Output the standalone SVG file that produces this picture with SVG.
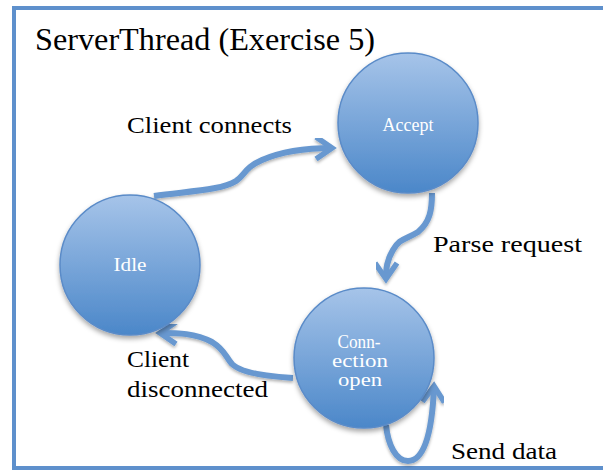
<svg xmlns="http://www.w3.org/2000/svg" width="603" height="472" viewBox="0 0 603 472">
<style>
.lbl{font-family:"Liberation Serif","Times New Roman",serif;fill:#000;font-size:24px}
.nl{font-family:"Liberation Serif","Times New Roman",serif;fill:#fff;font-size:19px;text-anchor:middle}
.node{fill:url(#g);stroke:#5a8bc8;stroke-width:1.5;filter:url(#sh)}
.con{fill:none;stroke:#6898d0;stroke-width:6;filter:url(#sh2);marker-end:url(#ah)}
</style>
<defs>
<linearGradient id="g" x1="0" y1="0" x2="0" y2="1">
<stop offset="0" stop-color="#a6c4e9"/>
<stop offset="1" stop-color="#4b87c9"/>
</linearGradient>
<filter id="sh" x="-20%" y="-20%" width="140%" height="150%">
<feDropShadow dx="0" dy="3" stdDeviation="2.5" flood-color="#000" flood-opacity="0.35"/>
</filter>
<filter id="sh2" x="-20%" y="-20%" width="140%" height="150%">
<feDropShadow dx="0" dy="2" stdDeviation="1.5" flood-color="#000" flood-opacity="0.3"/>
</filter>
<marker id="ah" markerUnits="userSpaceOnUse" viewBox="-22 -15 30 30" refX="0" refY="0" markerWidth="30" markerHeight="30" orient="auto">
<path d="M-16,-11 L0,0 L-16,11" fill="none" stroke="#6898d0" stroke-width="5.5" stroke-linejoin="miter"/>
</marker>
</defs>
<rect x="0" y="0" width="603" height="472" fill="#fff"/>
<rect id="frame" x="14" y="8" width="620" height="460" fill="#fff" stroke="#5e90cc" stroke-width="4"/>
<text id="title" x="35" y="50" class="lbl" style="font-size:32px" textLength="340" lengthAdjust="spacingAndGlyphs">ServerThread (Exercise 5)</text>
<g id="connectors">
<path class="con" d="M154,196 C190,191 222,190 236,181 C246,174 244,168 262,160 C285,150 310,148 332,148"/>
<path class="con" d="M432,193 C432,210 430,222 418,232 C405,240 400,238 393,250 C387,260 386,268 386,279"/>
<path class="con" d="M293,378 C260,376 240,372 232,364 C225,356 225,350 212,342 C195,333 178,333 160,333"/>
<path class="con" d="M386,425 C388,445 396,461 408,461 C422,461 432,440 434,386"/>
</g>
<g id="accept">
<circle class="node" cx="408" cy="123" r="70"/>
<text class="nl" x="408" y="131" textLength="51" lengthAdjust="spacingAndGlyphs">Accept</text>
</g>
<g id="idle">
<circle class="node" cx="130" cy="265" r="70"/>
<text class="nl" x="130" y="271" textLength="33" lengthAdjust="spacingAndGlyphs">Idle</text>
</g>
<g id="connection-open">
<circle class="node" cx="364" cy="358" r="70"/>
<text class="nl" x="359" y="348" textLength="43" lengthAdjust="spacingAndGlyphs">Conn-</text>
<text class="nl" x="360" y="367" textLength="56" lengthAdjust="spacingAndGlyphs">ection</text>
<text class="nl" x="360" y="386" textLength="44" lengthAdjust="spacingAndGlyphs">open</text>
</g>
<g id="labels">
<text class="lbl" x="127" y="133" textLength="165" lengthAdjust="spacingAndGlyphs">Client connects</text>
<text class="lbl" x="433" y="252" textLength="149" lengthAdjust="spacingAndGlyphs">Parse request</text>
<text class="lbl" x="127" y="367" textLength="62" lengthAdjust="spacingAndGlyphs">Client</text>
<text class="lbl" x="127" y="397" textLength="141" lengthAdjust="spacingAndGlyphs">disconnected</text>
<text class="lbl" x="451" y="459" textLength="106" lengthAdjust="spacingAndGlyphs">Send data</text>
</g>
</svg>
